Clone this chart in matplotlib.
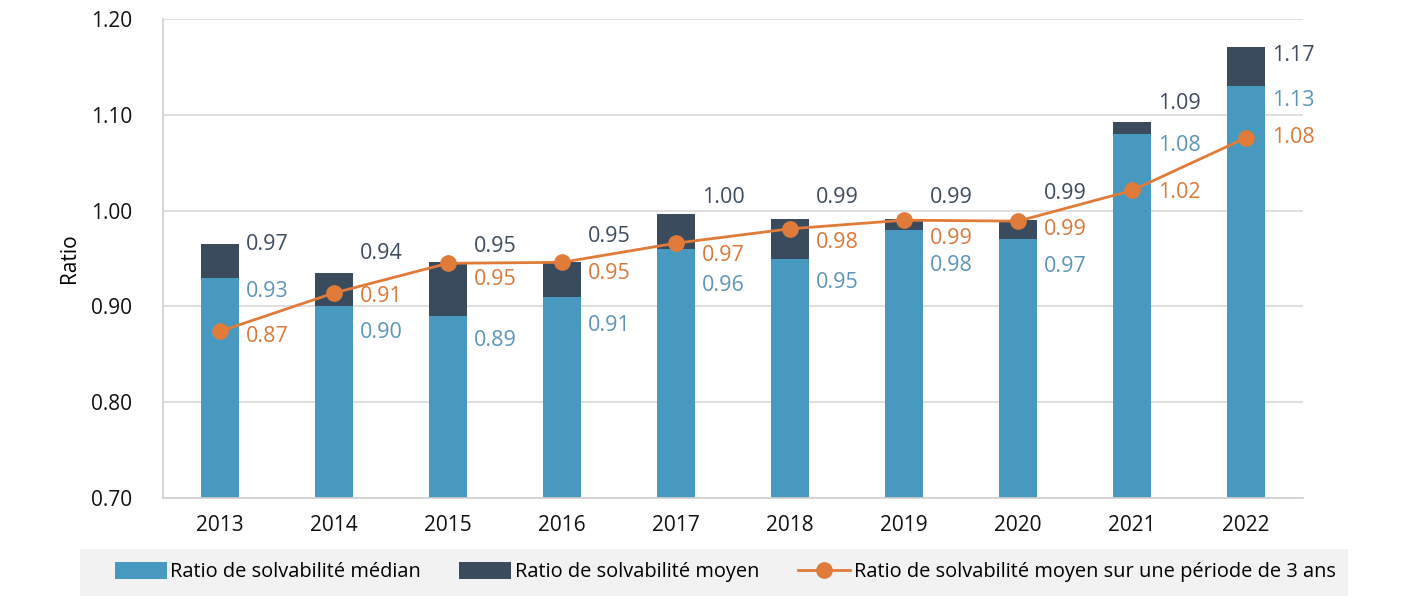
import matplotlib
matplotlib.use("Agg")
import matplotlib.pyplot as plt
from matplotlib.patches import Rectangle

plt.rcParams["font.family"] = ["Open Sans", "DejaVu Sans"]

years = ["2013", "2014", "2015", "2016", "2017", "2018", "2019", "2020", "2021", "2022"]
median = [0.930, 0.900, 0.890, 0.910, 0.960, 0.950, 0.980, 0.970, 1.080, 1.130]
mean = [0.965, 0.935, 0.946, 0.946, 0.996, 0.991, 0.991, 0.990, 1.092, 1.171]
avg3 = [0.874, 0.914, 0.945, 0.946, 0.966, 0.981, 0.990, 0.989, 1.021, 1.076]
median_lbl = ["0.93", "0.90", "0.89", "0.91", "0.96", "0.95", "0.98", "0.97", "1.08", "1.13"]
mean_lbl = ["0.97", "0.94", "0.95", "0.95", "1.00", "0.99", "0.99", "0.99", "1.09", "1.17"]
avg3_lbl = ["0.87", "0.91", "0.95", "0.95", "0.97", "0.98", "0.99", "0.99", "1.02", "1.08"]

# label vertical offsets (pixels, negative = down) to mimic the original placement
mean_dy = [0, 19, 16, 26, 17, 22, 22, 27, 19, -9]
median_dy = [-14, -26, -25, -29, -37, -24, -36, -27, -12, -14]
avg3_dy = [-5, -4, -16, -11, -12, -14, -18, -8, -2, 0]

C_MED = "#4899bf"
C_MEAN = "#3a4b5d"
C_AVG = "#e07b39"
C_MED_T = "#5b96b8"
C_MEAN_T = "#3d4c5e"
C_AVG_T = "#d9793a"

fig = plt.figure(figsize=(14.12, 6.14), dpi=100)
ax = fig.add_axes([163 / 1412, 1 - 498 / 614, 1140 / 1412, 479 / 614])

x = list(range(len(years)))
w = 0.333
base = 0.70
b1 = ax.bar(x, [m - base for m in median], w, bottom=base, color=C_MED, zorder=2)
b2 = ax.bar(x, [a - b for a, b in zip(mean, median)], w, bottom=median, color=C_MEAN, zorder=2)
l1, = ax.plot(x, avg3, color=C_AVG, lw=2, marker="o", ms=11, zorder=3)

for i in x:
    xl = i + w / 2 + 0.06
    ax.annotate(mean_lbl[i], (xl, mean[i]), xytext=(0, mean_dy[i]), textcoords="offset pixels",
                ha="left", va="center", fontsize=15.5, color=C_MEAN_T)
    ax.annotate(median_lbl[i], (xl, median[i]), xytext=(0, median_dy[i]), textcoords="offset pixels",
                ha="left", va="center", fontsize=15.5, color=C_MED_T)
    ax.annotate(avg3_lbl[i], (xl, avg3[i]), xytext=(0, avg3_dy[i]), textcoords="offset pixels",
                ha="left", va="center", fontsize=15.5, color=C_AVG_T)

ax.set_xlim(-0.5, len(years) - 0.5)
ax.set_ylim(0.70, 1.20)
ticks = [0.70, 0.80, 0.90, 1.00, 1.10, 1.20]
ax.set_yticks(ticks)
ax.set_yticklabels([f"{v:.2f}" for v in ticks])
ax.set_xticks(x)
ax.set_xticklabels(years)
ax.tick_params(axis="both", length=0, labelsize=15, colors="#111111")
ax.tick_params(axis="y", pad=22)
ax.tick_params(axis="x", pad=12)
ax.set_ylabel("Ratio", fontsize=15, labelpad=8)
ax.yaxis.grid(True, color="#d9d9d9", lw=1.2, zorder=0)
ax.set_axisbelow(True)
for s in ["top", "right"]:
    ax.spines[s].set_visible(False)
for s in ["left", "bottom"]:
    ax.spines[s].set_color("#d0d0d0")
    ax.spines[s].set_linewidth(1.2)

fig.patches.append(Rectangle((80 / 1412, 1 - 596 / 614), 1268 / 1412, 47 / 614,
                             transform=fig.transFigure, facecolor="#f2f2f2",
                             edgecolor="none", zorder=0))
fig.legend([b1, b2, l1],
           ["Ratio de solvabilité médian", "Ratio de solvabilité moyen",
            "Ratio de solvabilité moyen sur une période de 3 ans"],
           loc="center", bbox_to_anchor=(725 / 1412, 1 - 572 / 614), ncol=3, frameon=False,
           fontsize=14.4, handlelength=2.6, handletextpad=0.2, columnspacing=1.9,
           handleheight=0.9)

fig.savefig("out.png", dpi=100)
